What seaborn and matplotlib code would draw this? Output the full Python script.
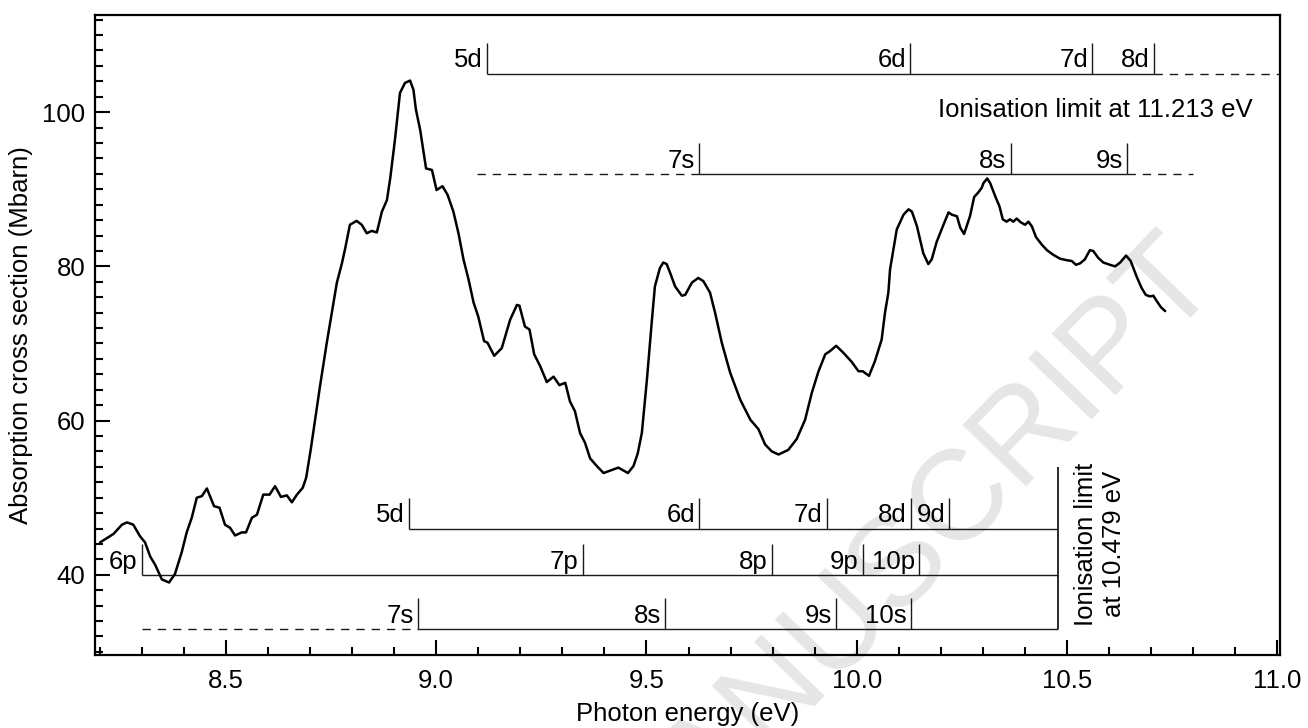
import matplotlib
matplotlib.use("Agg")
import matplotlib.pyplot as plt
import seaborn as sns
import pandas as pd
from matplotlib.ticker import MultipleLocator

# absorption spectrum
energy = [8.201, 8.233, 8.253, 8.265, 8.280, 8.296, 8.308, 8.320, 8.332, 8.348,
          8.365, 8.379, 8.395, 8.407, 8.419, 8.431, 8.443, 8.455, 8.472, 8.485,
          8.498, 8.510, 8.522, 8.538, 8.548, 8.562, 8.574, 8.589, 8.604, 8.617,
          8.631, 8.645, 8.657, 8.669, 8.683, 8.691, 8.702, 8.724, 8.740, 8.752,
          8.764, 8.776, 8.784, 8.795, 8.811, 8.823, 8.835, 8.847, 8.859, 8.871,
          8.883, 8.891, 8.902, 8.914, 8.926, 8.938, 8.946, 8.952, 8.962, 8.976,
          8.990, 9.001, 9.015, 9.027, 9.041, 9.053, 9.065, 9.077, 9.089, 9.100,
          9.114, 9.122, 9.138, 9.156, 9.176, 9.192, 9.198, 9.211, 9.222, 9.233,
          9.247, 9.263, 9.279, 9.293, 9.307, 9.318, 9.330, 9.342, 9.354, 9.366,
          9.382, 9.398, 9.413, 9.433, 9.456, 9.469, 9.479, 9.489, 9.501, 9.513,
          9.520, 9.532, 9.540, 9.548, 9.558, 9.568, 9.584, 9.592, 9.608, 9.623,
          9.635, 9.651, 9.663, 9.679, 9.699, 9.723, 9.747, 9.766, 9.782, 9.798,
          9.814, 9.837, 9.857, 9.877, 9.893, 9.909, 9.925, 9.936, 9.951, 9.968,
          9.988, 10.004, 10.014, 10.029, 10.043, 10.059, 10.067, 10.075, 10.079, 10.095,
          10.111, 10.123, 10.131, 10.143, 10.158, 10.170, 10.178, 10.190, 10.206, 10.218,
          10.226, 10.238, 10.246, 10.255, 10.269, 10.279, 10.289, 10.297, 10.301, 10.310,
          10.317, 10.329, 10.339, 10.347, 10.356, 10.364, 10.372, 10.380, 10.390, 10.400,
          10.408, 10.416, 10.426, 10.440, 10.452, 10.467, 10.483, 10.499, 10.511, 10.521,
          10.531, 10.542, 10.554, 10.562, 10.574, 10.586, 10.602, 10.614, 10.626, 10.640,
          10.651, 10.665, 10.677, 10.687, 10.697, 10.705, 10.713, 10.723, 10.733]
cross_section = [44.2, 45.3, 46.5, 46.8, 46.5, 45.0, 44.2, 42.4, 41.3, 39.4,
                 39.0, 40.1, 42.9, 45.5, 47.4, 50.0, 50.2, 51.2, 48.9, 48.7,
                 46.5, 46.1, 45.1, 45.5, 45.5, 47.4, 47.8, 50.4, 50.4, 51.5,
                 50.1, 50.3, 49.4, 50.4, 51.3, 52.6, 56.3, 64.5, 70.1, 74.0,
                 77.9, 80.4, 82.4, 85.4, 85.9, 85.4, 84.3, 84.6, 84.4, 87.1,
                 88.6, 91.5, 96.4, 102.5, 103.8, 104.1, 102.9, 100.3, 97.7, 92.7,
                 92.5, 89.9, 90.4, 89.3, 87.1, 84.3, 80.9, 78.3, 75.3, 73.5,
                 70.3, 70.1, 68.4, 69.4, 73.1, 75.0, 74.9, 72.2, 71.8, 68.6,
                 67.1, 65.0, 65.7, 64.6, 64.9, 62.5, 61.2, 58.4, 57.1, 55.1,
                 54.1, 53.2, 53.5, 53.9, 53.2, 54.1, 55.7, 58.4, 65.3, 73.1,
                 77.4, 79.8, 80.5, 80.3, 78.9, 77.4, 76.2, 76.3, 77.9, 78.5,
                 78.1, 76.6, 74.0, 70.1, 66.2, 62.7, 60.1, 58.9, 56.9, 56.0,
                 55.6, 56.2, 57.6, 60.1, 63.6, 66.4, 68.6, 69.0, 69.7, 68.8,
                 67.6, 66.4, 66.4, 65.8, 67.7, 70.5, 74.0, 76.6, 79.6, 84.8,
                 86.7, 87.4, 87.1, 85.2, 81.7, 80.3, 80.9, 83.2, 85.4, 87.0,
                 86.7, 86.5, 85.0, 84.2, 86.5, 89.0, 89.6, 90.2, 90.8, 91.4,
                 90.8, 89.1, 87.8, 86.1, 85.8, 86.1, 85.8, 86.2, 85.7, 85.4,
                 85.8, 85.2, 83.8, 82.8, 82.1, 81.5, 81.0, 80.8, 80.7, 80.2,
                 80.4, 80.9, 82.1, 82.0, 81.1, 80.5, 80.2, 80.0, 80.5, 81.4,
                 80.7, 78.7, 77.2, 76.3, 76.1, 76.2, 75.5, 74.7, 74.2]

# Rydberg series assignments (eV)
upper_d_labels = ["5d", "6d", "7d", "8d"]
upper_d_energy = [9.120, 10.127, 10.560, 10.707]
upper_s_labels = ["7s", "8s", "9s"]
upper_s_energy = [9.625, 10.366, 10.642]
lower_d_labels = ["5d", "6d", "7d", "8d", "9d"]
lower_d_energy = [8.936, 9.625, 9.929, 10.128, 10.220]
lower_p_labels = ["6p", "7p", "8p", "9p", "10p"]
lower_p_energy = [8.300, 9.349, 9.798, 10.014, 10.149]
lower_s_labels = ["7s", "8s", "9s", "10s"]
lower_s_energy = [8.958, 9.544, 9.950, 10.128]
ION_LIMIT_UPPER = 11.213
ION_LIMIT_LOWER = 10.479

FS = 18.5
LINE_COLOR = "#1a1a1a"
TICK_H = 4.0

sns.set_theme(style="ticks")
plt.rcParams["font.family"] = ["Liberation Sans", "DejaVu Sans"]
plt.rcParams["text.color"] = "black"
plt.rcParams["axes.labelcolor"] = "black"

fig = plt.figure(figsize=(13.08, 7.28), dpi=100)
ax = fig.add_axes([95 / 1308, 1 - 655 / 728, 1185 / 1308, 640 / 728])

# watermark, kept under the data and labels
ax.text(1198 / 1308, 1 - 262 / 728, "ACCEPTED MANUSCRIPT", transform=fig.transFigure,
        rotation=46, rotation_mode="anchor", ha="right", va="center", fontsize=92,
        color="#e6e6e6", zorder=0.5, clip_on=False)

df = pd.DataFrame({"energy": energy, "cs": cross_section})
sns.lineplot(data=df, x="energy", y="cs", ax=ax, color="black", lw=1.8,
             estimator=None, sort=False, zorder=3)


def series(level, energies, labels, x_end, dash_before=None, dash_after=None):
    ax.hlines(level, energies[0], x_end, color=LINE_COLOR, lw=1.0)
    ax.vlines(energies, level, level + TICK_H, color=LINE_COLOR, lw=1.0)
    for e, lab in zip(energies, labels):
        ax.annotate(lab, (e, level), xytext=(-3, 4.5), textcoords="offset points",
                    ha="right", va="baseline", fontsize=FS)
    if dash_before is not None:
        ax.plot([dash_before, energies[0]], [level, level], color=LINE_COLOR,
                lw=1.0, dashes=(6, 5))
    if dash_after is not None:
        ax.plot([x_end, dash_after], [level, level], color=LINE_COLOR,
                lw=1.0, dashes=(6, 5))


series(105, upper_d_energy, upper_d_labels, upper_d_energy[-1], dash_after=11.01)
series(92, upper_s_energy, upper_s_labels, upper_s_energy[-1],
       dash_before=9.096, dash_after=10.80)
series(46, lower_d_energy, lower_d_labels, ION_LIMIT_LOWER)
series(40, lower_p_energy, lower_p_labels, ION_LIMIT_LOWER)
series(33, lower_s_energy, lower_s_labels, ION_LIMIT_LOWER, dash_before=8.30)
ax.vlines(ION_LIMIT_LOWER, 33, 54, color=LINE_COLOR, lw=1.3)

ax.text(10.94, 100.3, f"Ionisation limit at {ION_LIMIT_UPPER:.3f} eV",
        ha="right", va="center", fontsize=FS)
ax.text(10.578, 44, f"Ionisation limit\nat {ION_LIMIT_LOWER:.3f} eV", rotation=90,
        ha="center", va="center", multialignment="center", fontsize=FS,
        linespacing=1.2)

ax.set_xlim(8.189, 11.006)
ax.set_ylim(29.6, 112.6)
ax.xaxis.set_major_locator(MultipleLocator(0.5))
ax.xaxis.set_minor_locator(MultipleLocator(0.1))
ax.yaxis.set_major_locator(MultipleLocator(20))
ax.yaxis.set_minor_locator(MultipleLocator(2))
ax.xaxis.set_major_formatter(matplotlib.ticker.FormatStrFormatter("%.1f"))
ax.tick_params(which="both", direction="in", width=1.5, colors="black",
               labelsize=FS, top=False, right=False)
ax.tick_params(which="major", length=10.5)
ax.tick_params(which="minor", length=6)
ax.tick_params(axis="x", which="major", pad=10)
ax.tick_params(axis="y", which="major", pad=7)
for s in ax.spines.values():
    s.set_linewidth(1.6)
    s.set_color("black")

ax.set_xlabel("Photon energy (eV)", fontsize=FS)
ax.set_ylabel("Absorption cross section (Mbarn)", fontsize=FS)
ax.xaxis.set_label_coords(0.5, -0.074)
ax.yaxis.set_label_coords(-0.052, 0.5)

fig.savefig("out.png", dpi=100)
